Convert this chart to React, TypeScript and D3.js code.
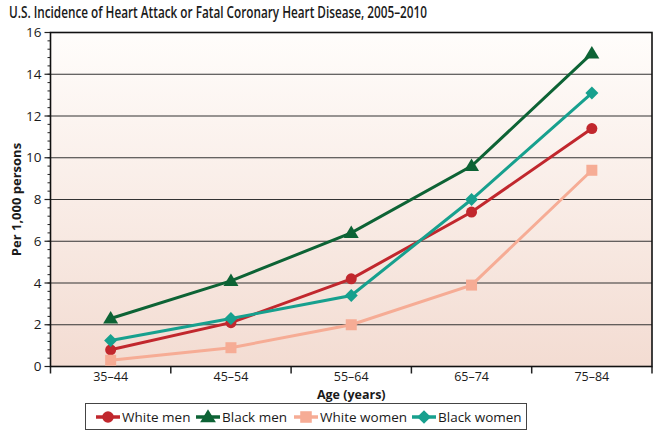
import React from "react";
import * as d3 from "d3";

const categories = ["35–44", "45–54", "55–64", "65–74", "75–84"];
const whiteMen = [0.8, 2.1, 4.2, 7.4, 11.4];
const blackMen = [2.3, 4.1, 6.4, 9.6, 15.0];
const whiteWomen = [0.3, 0.9, 2.0, 3.9, 9.4];
const blackWomen = [1.25, 2.3, 3.4, 8.0, 13.1];
const yTicks = [0, 2, 4, 6, 8, 10, 12, 14, 16];

const seriesList = [
  { name: "White men", values: whiteMen, color: "#c1272d", shape: "circle" },
  { name: "Black men", values: blackMen, color: "#0d6335", shape: "triangle" },
  { name: "White women", values: whiteWomen, color: "#f6ac95", shape: "square" },
  { name: "Black women", values: blackWomen, color: "#17a08e", shape: "diamond" },
];

const W = 660, H = 433;
const L = 50.5, R = 652, T = 32.5, B = 366.5;
const FONT = "'Open Sans', 'Noto Sans', sans-serif";

function Marker({ shape, x, y, color, s = 1 }: { shape: string; x: number; y: number; color: string; s?: number }) {
  if (shape === "circle") return <circle cx={x} cy={y} r={5.5 * s} fill={color} />;
  if (shape === "square") return <rect x={x - 5.5 * s} y={y - 5.5 * s} width={11 * s} height={11 * s} fill={color} />;
  if (shape === "triangle")
    return <path d={`M${x},${y - 7.5 * s}L${x + 7.5 * s},${y + 5 * s}L${x - 7.5 * s},${y + 5 * s}Z`} fill={color} />;
  return <path d={`M${x},${y - 6.5 * s}L${x + 6.5 * s},${y}L${x},${y + 6.5 * s}L${x - 6.5 * s},${y}Z`} fill={color} />;
}

export default function App() {
  const x = d3.scaleBand<string>().domain(categories).range([L, R]);
  const y = d3.scaleLinear().domain([0, 16]).range([B, T]);
  const line = d3
    .line<number>()
    .x((_, i) => (x(categories[i]) as number) + x.bandwidth() / 2)
    .y((d) => y(d));
  const minor = d3.range(0, 16.01, 0.4);
  const boundaries = [...categories.map((c) => x(c) as number), R];

  const legendItems = [
    { x: 108, tx: 122 },
    { x: 208, tx: 222 },
    { x: 306, tx: 320 },
    { x: 424, tx: 438 },
  ];

  return (
    <svg width={W} height={H} style={{ position: "absolute", left: 0, top: 0, background: "#fff" }}>
      <defs>
        <linearGradient id="bg" x1="0" y1="0" x2="0" y2="1">
          <stop offset="0" stopColor="#fffdfb" />
          <stop offset="1" stopColor="#f3dcd2" />
        </linearGradient>
      </defs>
      <text x={9} y={18} fontFamily={FONT} fontSize={16} fontWeight={600} fill="#1a1a1a" textLength={418} lengthAdjust="spacingAndGlyphs">
        U.S. Incidence of Heart Attack or Fatal Coronary Heart Disease, 2005–2010
      </text>
      <rect x={L} y={T} width={R - L} height={B - T} fill="url(#bg)" />
      {yTicks.slice(1, -1).map((t) => (
        <line key={t} x1={L} x2={R} y1={y(t)} y2={y(t)} stroke="#333" strokeWidth={1.2} />
      ))}
      {minor.map((t, i) => (
        <line key={i} x1={L - 3} x2={L} y1={y(t)} y2={y(t)} stroke="#222" strokeWidth={1} />
      ))}
      {yTicks.map((t) => (
        <g key={t}>
          <line x1={L - 6} x2={L} y1={y(t)} y2={y(t)} stroke="#222" strokeWidth={1.2} />
          <text x={L - 9} y={y(t)} dy="0.35em" textAnchor="end" fontFamily={FONT} fontSize={13.5} fill="#1a1a1a">
            {t}
          </text>
        </g>
      ))}
      {boundaries.map((b, i) => (
        <line key={i} x1={b} x2={b} y1={B} y2={B + 7} stroke="#222" strokeWidth={1.5} />
      ))}
      {categories.map((c) => (
        <text key={c} x={(x(c) as number) + x.bandwidth() / 2} y={381} textAnchor="middle" fontFamily={FONT} fontSize={12.5} fill="#1a1a1a">
          {c}
        </text>
      ))}
      <text x={(L + R) / 2} y={398.5} textAnchor="middle" fontFamily={FONT} fontSize={12.5} fontWeight={700} fill="#1a1a1a">
        Age (years)
      </text>
      <text transform={`translate(21,${(T + B) / 2}) rotate(-90)`} textAnchor="middle" fontFamily={FONT} fontSize={13} fontWeight={700} fill="#1a1a1a">
        Per 1,000 persons
      </text>
      <rect x={L} y={T} width={R - L} height={B - T} fill="none" stroke="#111" strokeWidth={1.6} />
      {seriesList.map((s) => (
        <g key={s.name}>
          <path d={line(s.values) || ""} fill="none" stroke={s.color} strokeWidth={3} />
          {s.values.map((v, i) => (
            <Marker key={i} shape={s.shape} x={(x(categories[i]) as number) + x.bandwidth() / 2} y={y(v)} color={s.color} />
          ))}
        </g>
      ))}
      <rect x={85.5} y={403.5} width={441} height={26} fill="#fff" stroke="#444" strokeWidth={1} />
      {seriesList.map((s, i) => (
        <g key={s.name}>
          <line x1={legendItems[i].x - 12} x2={legendItems[i].x + 12} y1={417} y2={417} stroke={s.color} strokeWidth={3.5} />
          <Marker shape={s.shape} x={legendItems[i].x} y={417} color={s.color} s={1.05} />
          <text x={legendItems[i].tx} y={417} dy="0.35em" fontFamily={FONT} fontSize={13.5} fill="#1a1a1a">
            {s.name}
          </text>
        </g>
      ))}
    </svg>
  );
}
